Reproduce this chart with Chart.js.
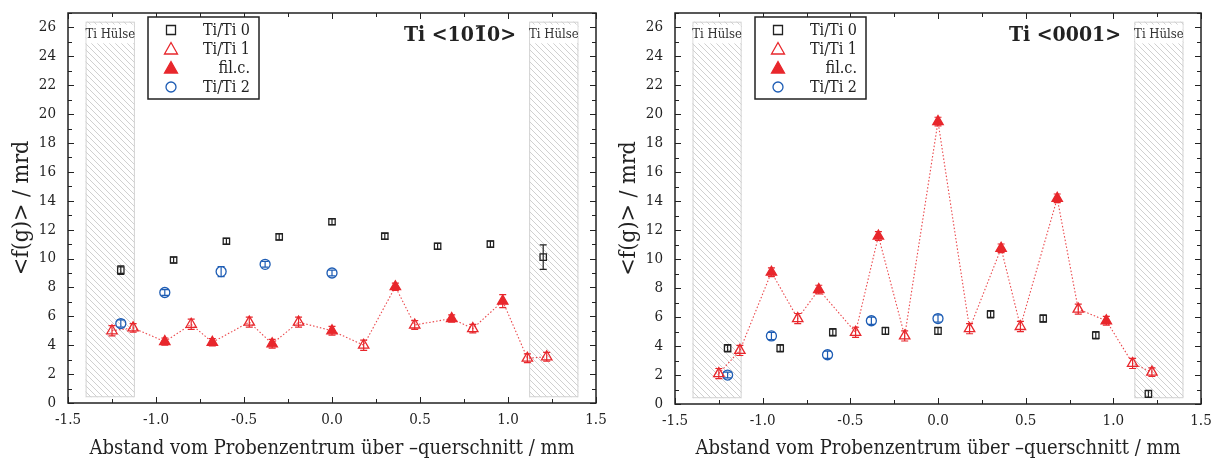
<!DOCTYPE html>
<html lang="de">
<head>
<meta charset="UTF-8">
<title>Ti Textur</title>
<script src="https://cdn.jsdelivr.net/npm/chart.js@4"></script>
<style>
  body { margin: 0; background: #fff; }
  canvas { position: absolute; top: 0; }
</style>
</head>
<body>
<canvas id="chartA" width="607" height="459" style="left:0"></canvas>
<canvas id="chartB" width="610" height="459" style="left:607px"></canvas>
<script>
// ---- left panel: Ti <10-10> ----
const aTi0X = [-1.2, -0.9, -0.6, -0.3, 0.0, 0.3, 0.6, 0.9, 1.2];
const aTi0Y = [9.2, 9.9, 11.2, 11.5, 12.55, 11.55, 10.85, 11.0, 10.1];
const aTi0E = [0.3, 0.2, 0.2, 0.2, 0.2, 0.2, 0.2, 0.2, 0.85];
const aTi1X = [-1.25, -1.13, -0.8, -0.47, -0.19, 0.18, 0.47, 0.8, 1.11, 1.22];
const aTi1Y = [5.0, 5.2, 5.45, 5.6, 5.6, 4.0, 5.4, 5.15, 3.1, 3.2];
const aTi1E = [0.35, 0.3, 0.35, 0.35, 0.35, 0.35, 0.3, 0.3, 0.3, 0.3];
const aFilX = [-0.95, -0.68, -0.34, 0.0, 0.36, 0.68, 0.97];
const aFilY = [4.25, 4.2, 4.1, 5.0, 8.05, 5.85, 7.05];
const aFilE = [0.25, 0.25, 0.3, 0.3, 0.25, 0.25, 0.45];
const aTi2X = [-1.2, -0.95, -0.63, -0.38, 0.0];
const aTi2Y = [5.5, 7.65, 9.1, 9.6, 9.0];
const aTi2E = [0.25, 0.2, 0.35, 0.2, 0.2];

// ---- right panel: Ti <0001> ----
const bTi0X = [-1.2, -0.9, -0.6, -0.3, 0.0, 0.3, 0.6, 0.9, 1.2];
const bTi0Y = [3.85, 3.85, 4.95, 5.05, 5.05, 6.2, 5.9, 4.75, 0.7];
const bTi0E = [0.25, 0.25, 0.25, 0.25, 0.25, 0.25, 0.25, 0.25, 0.25];
const bTi1X = [-1.25, -1.13, -0.8, -0.47, -0.19, 0.18, 0.47, 0.8, 1.11, 1.22];
const bTi1Y = [2.1, 3.7, 5.9, 4.95, 4.7, 5.2, 5.35, 6.55, 2.8, 2.2];
const bTi1E = [0.35, 0.35, 0.35, 0.35, 0.35, 0.35, 0.35, 0.35, 0.35, 0.3];
const bFilX = [-0.95, -0.68, -0.34, 0.0, 0.36, 0.68, 0.96];
const bFilY = [9.1, 7.9, 11.6, 19.5, 10.75, 14.2, 5.75];
const bFilE = [0.3, 0.3, 0.3, 0.3, 0.3, 0.3, 0.3];
const bTi2X = [-1.2, -0.95, -0.63, -0.38, 0.0];
const bTi2Y = [2.0, 4.7, 3.4, 5.75, 5.9];
const bTi2E = [0.2, 0.25, 0.25, 0.25, 0.25];

// Ti sleeve ranges (x) and height (y)
const huelseLeft = [-1.4, -1.12];
const huelseRight = [1.12, 1.4];
const huelseTop = 26.4;
const huelseBottom = 0.4;

const labels = ['Ti/Ti 0', 'Ti/Ti 1', 'fil.c.', 'Ti/Ti 2'];
const xTitle = 'Abstand vom Probenzentrum über –querschnitt / mm';
const yTitle = '<f(g)> / mrd';

const SERIF = '"DejaVu Serif Condensed", "DejaVu Serif", serif';
const RED = '#e8272c';
const BLUE = '#1d5cb4';
const BLACK = '#222';

function pts(xs, ys) { return xs.map((x, i) => ({ x: x, y: ys[i] })); }

function hatchPattern(ctx) {
  const c = document.createElement('canvas');
  c.width = 6; c.height = 6;
  const g = c.getContext('2d');
  g.strokeStyle = '#c4c4c4';
  g.lineWidth = 0.8;
  g.beginPath();
  g.moveTo(-1, -1); g.lineTo(7, 7);
  g.moveTo(-1, 5); g.lineTo(1, 7);
  g.moveTo(5, -1); g.lineTo(7, 1);
  g.stroke();
  return ctx.createPattern(c, 'repeat');
}

// hatched sleeve areas
const sleeves = {
  id: 'sleeves',
  beforeDatasetsDraw(chart) {
    const { ctx, scales: { x, y } } = chart;
    ctx.save();
    const pat = hatchPattern(ctx);
    [huelseLeft, huelseRight].forEach(r => {
      const l = x.getPixelForValue(r[0]), rr = x.getPixelForValue(r[1]);
      const t = y.getPixelForValue(huelseTop), b = y.getPixelForValue(huelseBottom);
      ctx.fillStyle = pat;
      ctx.fillRect(l, t, rr - l, b - t);
      ctx.strokeStyle = '#d2d2d2';
      ctx.lineWidth = 1;
      ctx.strokeRect(l + 0.5, t + 0.5, rr - l - 1, b - t - 1);
      const lt = y.getPixelForValue(26.2), lb = y.getPixelForValue(24.9);
      ctx.fillStyle = '#fff';
      ctx.fillRect(l + 1, lt, rr - l - 2, lb - lt);
      ctx.fillStyle = '#333';
      ctx.font = '13px ' + SERIF;
      ctx.textAlign = 'center';
      ctx.textBaseline = 'middle';
      ctx.fillText('Ti Hülse', (l + rr) / 2, (lt + lb) / 2 + 1);
    });
    ctx.restore();
  }
};

// error bars from the errors arrays
const errorBars = {
  id: 'errorBars',
  afterDatasetsDraw(chart) {
    const { ctx, scales: { x, y } } = chart;
    ctx.save();
    chart.data.datasets.forEach(ds => {
      if (!ds.errors) return;
      ctx.strokeStyle = ds.borderColor;
      ctx.lineWidth = 1.2;
      ds.data.forEach((p, j) => {
        const e = ds.errors[j];
        const px = x.getPixelForValue(p.x);
        const y1 = y.getPixelForValue(p.y + e), y2 = y.getPixelForValue(p.y - e);
        ctx.beginPath();
        ctx.moveTo(px, y1); ctx.lineTo(px, y2);
        ctx.moveTo(px - 3.5, y1); ctx.lineTo(px + 3.5, y1);
        ctx.moveTo(px - 3.5, y2); ctx.lineTo(px + 3.5, y2);
        ctx.stroke();
      });
    });
    ctx.restore();
  }
};

// box frame with inward ticks on all four sides
const frame = {
  id: 'frame',
  afterDraw(chart) {
    const { ctx, chartArea: a, scales: { x, y } } = chart;
    ctx.save();
    ctx.strokeStyle = BLACK;
    ctx.lineWidth = 1.5;
    ctx.strokeRect(a.left, a.top, a.right - a.left, a.bottom - a.top);
    ctx.lineWidth = 1;
    ctx.beginPath();
    x.ticks.forEach(t => {
      const px = Math.round(x.getPixelForValue(t.value)) + 0.5;
      const major = Math.abs(t.value * 2 - Math.round(t.value * 2)) < 1e-6;
      const len = major ? 6 : 4;
      ctx.moveTo(px, a.bottom); ctx.lineTo(px, a.bottom - len);
      ctx.moveTo(px, a.top); ctx.lineTo(px, a.top + len);
    });
    y.ticks.forEach(t => {
      const py = Math.round(y.getPixelForValue(t.value)) + 0.5;
      const len = t.value % 2 === 0 ? 6 : 4;
      ctx.moveTo(a.left, py); ctx.lineTo(a.left + len, py);
      ctx.moveTo(a.right, py); ctx.lineTo(a.right - len, py);
    });
    ctx.stroke();
    ctx.restore();
  }
};

function drawMarker(ctx, style, cx, cy, color, filled) {
  ctx.beginPath();
  if (style === 'rect') {
    ctx.rect(cx - 4.5, cy - 4.5, 9, 9);
  } else if (style === 'triangle') {
    ctx.moveTo(cx, cy - 6.5); ctx.lineTo(cx + 6.5, cy + 5); ctx.lineTo(cx - 6.5, cy + 5); ctx.closePath();
  } else {
    ctx.arc(cx, cy, 5, 0, Math.PI * 2);
  }
  if (filled) { ctx.fillStyle = color; ctx.fill(); }
  ctx.strokeStyle = color; ctx.lineWidth = 1.3; ctx.stroke();
}

// legend box + panel title, drawn inside the plot area
const legendBox = {
  id: 'legendBox',
  afterDraw(chart, args, opts) {
    const { ctx, chartArea: a } = chart;
    ctx.save();
    const bx = a.left + 80, by = a.top + 4, bw = 111, bh = 82;
    ctx.fillStyle = '#fff';
    ctx.fillRect(bx, by, bw, bh);
    ctx.strokeStyle = BLACK; ctx.lineWidth = 1.5;
    ctx.strokeRect(bx, by, bw, bh);
    ctx.font = '16px ' + SERIF;
    ctx.textAlign = 'right';
    ctx.textBaseline = 'middle';
    const entries = chart.data.datasets.filter(d => d.inLegend);
    entries.forEach((d, i) => {
      const cy = by + 13 + i * 19;
      drawMarker(ctx, d.pointStyle, bx + 23, cy, d.borderColor, d.backgroundColor !== 'transparent');
      ctx.fillStyle = BLACK;
      ctx.fillText(d.label, bx + bw - 9, cy + 1);
    });
    // title with overline support: parts [text, overlined]
    ctx.font = 'bold 21px ' + SERIF;
    ctx.textAlign = 'left';
    ctx.textBaseline = 'middle';
    const parts = opts.title;
    const total = parts.reduce((s, p) => s + ctx.measureText(p[0]).width, 0);
    let tx = a.right - 80 - total;
    const ty = a.top + 23;
    parts.forEach(p => {
      const w = ctx.measureText(p[0]).width;
      ctx.fillStyle = BLACK;
      ctx.fillText(p[0], tx, ty);
      if (p[1]) {
        ctx.strokeStyle = BLACK; ctx.lineWidth = 1.5;
        ctx.beginPath(); ctx.moveTo(tx + 2, ty - 10); ctx.lineTo(tx + w - 2, ty - 10); ctx.stroke();
      }
      tx += w;
    });
    ctx.restore();
  }
};

function buildChart(id, d, title, padRight, padTop, xHeight) {
  const ti1 = pts(d.ti1x, d.ti1y), fil = pts(d.filx, d.fily);
  const linePts = ti1.concat(fil).sort((p, q) => p.x - q.x);
  return new Chart(document.getElementById(id), {
    type: 'scatter',
    data: {
      datasets: [
        { label: 'line', data: linePts, showLine: true, pointRadius: 0, borderColor: 'rgba(232,39,44,0.85)',
          borderWidth: 1.1, borderDash: [1.5, 2], order: 10 },
        { label: labels[0], inLegend: true, data: pts(d.ti0x, d.ti0y), errors: d.ti0e, pointStyle: 'rect',
          pointRadius: 4.5, borderColor: BLACK, backgroundColor: 'transparent', borderWidth: 1.3, order: 2 },
        { label: labels[1], inLegend: true, data: ti1, errors: d.ti1e, pointStyle: 'triangle',
          pointRadius: 6, borderColor: RED, backgroundColor: 'transparent', borderWidth: 1.3, order: 1 },
        { label: labels[2], inLegend: true, data: fil, errors: d.file, pointStyle: 'triangle',
          pointRadius: 6, borderColor: RED, backgroundColor: RED, borderWidth: 1.3, order: 1 },
        { label: labels[3], inLegend: true, data: pts(d.ti2x, d.ti2y), errors: d.ti2e, pointStyle: 'circle',
          pointRadius: 5, borderColor: BLUE, backgroundColor: 'transparent', borderWidth: 1.3, order: 3 }
      ]
    },
    options: {
      responsive: false,
      animation: false,
      layout: { padding: { left: 0, right: padRight, top: padTop, bottom: 0 } },
      plugins: { legend: { display: false }, tooltip: { enabled: false }, legendBox: { title: title } },
      scales: {
        x: {
          type: 'linear', min: -1.5, max: 1.5,
          grid: { display: false }, border: { display: false },
          afterFit: s => { s.height = xHeight; },
          ticks: {
            stepSize: 0.25, autoSkip: false, maxRotation: 0, padding: 0, color: BLACK,
            font: { family: SERIF, size: 15 },
            callback: v => Math.abs(v * 2 - Math.round(v * 2)) < 1e-6 ? v.toFixed(1) : ''
          },
          title: { display: true, text: xTitle, color: BLACK,
                   font: { family: SERIF, size: 20, lineHeight: 1.0 }, padding: { top: 4, bottom: 0 } }
        },
        y: {
          min: 0, max: 27,
          grid: { display: false }, border: { display: false },
          afterFit: s => { s.width = 68; },
          ticks: {
            stepSize: 1, autoSkip: false, padding: 4, color: BLACK,
            font: { family: SERIF, size: 15 },
            callback: v => v % 2 === 0 ? v : ''
          },
          title: { display: true, text: yTitle, color: BLACK,
                   font: { family: SERIF, size: 23, lineHeight: 1.0 }, padding: { top: 11, bottom: 0 } }
        }
      }
    },
    plugins: [sleeves, errorBars, frame, legendBox]
  });
}

buildChart('chartA', {
  ti0x: aTi0X, ti0y: aTi0Y, ti0e: aTi0E, ti1x: aTi1X, ti1y: aTi1Y, ti1e: aTi1E,
  filx: aFilX, fily: aFilY, file: aFilE, ti2x: aTi2X, ti2y: aTi2Y, ti2e: aTi2E
}, [['Ti <10', false], ['1', true], ['0>', false]], 11, 12, 56);

buildChart('chartB', {
  ti0x: bTi0X, ti0y: bTi0Y, ti0e: bTi0E, ti1x: bTi1X, ti1y: bTi1Y, ti1e: bTi1E,
  filx: bFilX, fily: bFilY, file: bFilE, ti2x: bTi2X, ti2y: bTi2Y, ti2e: bTi2E
}, [['Ti <0001>', false]], 16, 13, 55);
</script>
</body>
</html>
